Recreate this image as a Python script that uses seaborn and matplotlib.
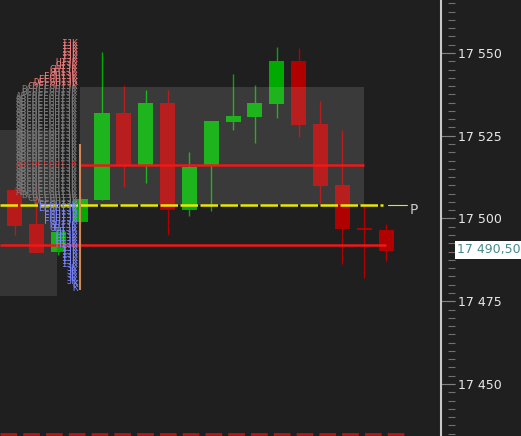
import numpy as np
import pandas as pd
import matplotlib
matplotlib.use("Agg")
import matplotlib.pyplot as plt
import matplotlib.ticker as mticker
import seaborn as sns

# candles (bar index, open, high, low, close)
bar_idx = [0, 1, 2, 3, 4, 5, 6, 7, 8, 9, 10, 11, 12, 13, 14, 15, 16, 17]
opens = [17508.5, 17498.2, 17490.0, 17499.0, 17505.7, 17532.0, 17516.3, 17535.0, 17502.7,
         17516.3, 17529.3, 17530.8, 17534.7, 17547.7, 17528.4, 17510.0, 17497.0, 17496.4]
highs = [17509.5, 17510.3, 17497.0, 17506.5, 17550.2, 17540.2, 17538.7, 17538.7, 17520.2,
         17529.6, 17543.8, 17540.2, 17551.7, 17551.4, 17535.6, 17526.6, 17504.5, 17498.2]
lows = [17494.9, 17489.7, 17489.0, 17498.5, 17505.7, 17509.4, 17510.6, 17494.9, 17500.9,
        17502.4, 17526.6, 17522.7, 17530.5, 17524.5, 17504.8, 17486.4, 17481.9, 17487.3]
closes = [17497.6, 17489.7, 17496.0, 17506.0, 17532.0, 17516.0, 17535.0, 17502.7, 17515.7,
          17529.6, 17531.1, 17535.0, 17547.7, 17528.1, 17509.7, 17496.7, 17496.4, 17490.3]

# TPO profile, one row per point from the top price down
tpo_top = 17553
tpo_counts = [3, 3, 3, 3, 3, 3, 4, 4, 5, 5, 6, 7, 8, 9, 10, 10,
              11, 11, 11, 11, 11, 11, 11, 11, 11, 11, 11, 11, 11, 11, 11,
              11, 11, 11, 11, 11, 11, 11, 11, 11, 11, 11, 11, 11, 11, 11,
              10, 9, 8, 7, 7, 6, 6, 6, 6, 5, 5, 4, 4, 4, 4, 4,
              3, 3, 3, 3, 3, 3, 2, 2, 2, 2, 2, 1, 1]
tpo_letters = "ABCDEFGHIJK"
tpo_poc = 17516

# levels
va_high, va_low = 17539.7, 17504.1
prev_box = (17476.6, 17526.7)
poc_line = 17516.2
low_line = 17492.0
pivot = 17504.1
bottom_line = 17434.9
last_price = 17490.5

bg = "#1f1f1f"
sns.set_theme(style="dark", rc={"axes.facecolor": bg, "figure.facecolor": bg})
plt.rcParams["font.family"] = ["DejaVu Sans"]

df = pd.DataFrame({"x": bar_idx, "open": opens, "high": highs, "low": lows, "close": closes})
df["up"] = df["close"] >= df["open"]

fig = plt.figure(figsize=(5.21, 4.36), dpi=100)
ax = fig.add_axes([0, 0, 441 / 521, 1])
ax.set_xlim(-0.668, 19.515)
ax.set_ylim(17434.29, 17566.01)

green, red = "#00aa00", "#b00000"
for _, r in df.iterrows():
    col = green if r["up"] else red
    ax.vlines(r["x"], r["low"], r["high"], color=col, lw=1, zorder=2)
    h = max(abs(r["close"] - r["open"]), 0.6)
    ax.bar(r["x"], h, bottom=min(r["open"], r["close"]), width=0.69, color=col,
           linewidth=0, zorder=2)

# shaded boxes over the candles
ax.fill_between([2.99, 15.99], va_low, va_high, color="white", alpha=0.12, lw=0, zorder=3)
ax.fill_between([-0.668, 1.94], prev_box[0], prev_box[1], color="white", alpha=0.1, lw=0, zorder=3)

# profile letters
for i, n in enumerate(tpo_counts):
    p = tpo_top - i
    if p == tpo_poc:
        c = "#ff2a2a"
    elif p >= 17540:
        c = "#ee7c7c"
    elif p >= 17505:
        c = "#7a7a7a"
    else:
        c = "#7c86ff"
    ax.text(2.90, p, tpo_letters[-n:], ha="right", va="center", family="DejaVu Sans Mono",
            fontsize=6.7, color=c, zorder=5)
ax.vlines(2.99, 17478.4, 17522.5, color="#d08858", lw=1.5, zorder=5)

# levels
ax.hlines(poc_line, 2.99, 15.99, color="#f01818", lw=1.8, zorder=4)
ax.hlines(low_line, -0.668, 17.0, color="#f01818", lw=1.8, zorder=4)
ax.plot([-0.668, 16.86], [pivot, pivot], color="#e8e800", lw=1.8, ls=(0, (7, 1)), zorder=4)
ax.plot([17.1, 17.96], [pivot, pivot], color="#e8e800", lw=0.8, zorder=4)
ax.text(18.1, pivot - 1.6, "P", color="#c8c8c8", fontsize=10, va="center", ha="left", zorder=5)
ax.plot([-0.668, 18.0], [bottom_line, bottom_line], color="#b01818", lw=2.0,
        ls=(0, (6, 2.2)), zorder=4)

# price axis on the right
for s in ["top", "left", "bottom"]:
    ax.spines[s].set_visible(False)
ax.spines["right"].set_color("#c8c8c8")
ax.spines["right"].set_linewidth(1.5)
ax.set_xticks([])
ax.yaxis.tick_right()
ax.set_yticks([17450, 17475, 17500, 17525, 17550])
ax.yaxis.set_major_formatter(mticker.FuncFormatter(lambda v, _: f"{int(v):,}".replace(",", " ")))
ax.tick_params(axis="y", which="major", direction="out", length=10, width=0.8,
               color="#808080", labelcolor="#e8e8e8", labelsize=9, pad=2, right=True)
ax.grid(False)

sec = ax.secondary_yaxis(1 + 7 / 441)
sec.set_yticks(np.arange(17435, 17566, 2.5))
sec.set_yticklabels([])
sec.spines["right"].set_visible(False)
sec.tick_params(axis="y", direction="out", length=5, width=0.8, color="#707070")

ax.text(1 + 16 / 441, last_price, "17 490,50", transform=ax.get_yaxis_transform(),
        ha="left", va="center", fontsize=9, color="#4a8a8a", clip_on=False,
        bbox=dict(boxstyle="square,pad=0.2", facecolor="white", edgecolor="none"))

fig.savefig("out.png", dpi=100, facecolor=bg)
